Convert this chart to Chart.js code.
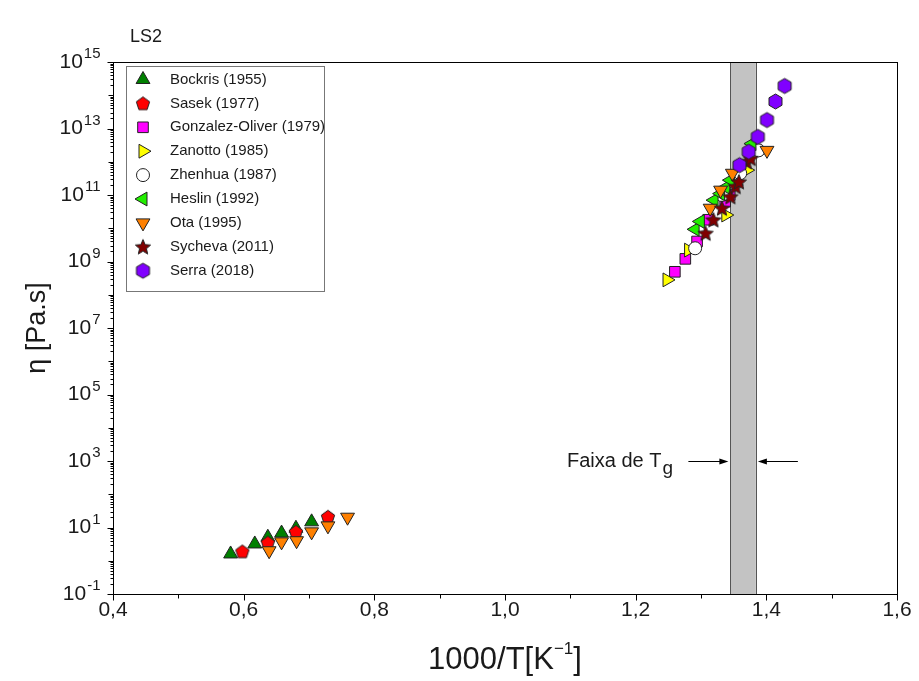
<!DOCTYPE html>
<html>
<head>
<meta charset="utf-8">
<script src="https://cdn.jsdelivr.net/npm/chart.js@4.4.1/dist/chart.umd.min.js"></script>
<style>
  html, body { margin: 0; padding: 0; background: #fff; }
  #wrap { width: 919px; height: 681px; }
</style>
</head>
<body>
<div id="wrap"><canvas id="chart" width="919" height="681"></canvas></div>
<script>
// dados (x = 1000/T, y = viscosidade em Pa.s)
const bockrisX = [0.580, 0.617, 0.637, 0.658, 0.680, 0.704]
const bockrisY = [1.6, 3.2, 5.1, 6.8, 9.5, 14.8]
const sasekX = [0.598, 0.637, 0.680, 0.729]
const sasekY = [1.9, 3.5, 7.4, 21]
const gonzalezX = [1.260, 1.276, 1.294, 1.311, 1.337, 1.344]
const gonzalezY = [4.9e8, 1.2e9, 4.0e9, 1.8e10, 6.3e10, 1.0e11]
const zanottoX = [1.248, 1.281, 1.338, 1.370]
const zanottoY = [2.8e8, 2.2e9, 2.5e10, 5.6e11]
const zhenhuaX = [1.291, 1.332, 1.337, 1.350, 1.360, 1.388]
const zhenhuaY = [2.5e9, 1.0e11, 1.1e11, 2.5e11, 4.5e11, 2.2e12]
const heslinX = [1.291, 1.299, 1.320, 1.330, 1.338, 1.345, 1.378]
const heslinY = [9.3e9, 1.6e10, 7.0e10, 1.1e11, 1.7e11, 2.8e11, 3.5e12]
const otaX = [0.639, 0.658, 0.681, 0.704, 0.729, 0.759, 1.314, 1.330, 1.348, 1.401]
const otaY = [2.0, 3.7, 4.0, 7.4, 11.2, 20.4, 4.0e10, 1.4e11, 4.5e11, 2.2e12]
const sychevaX = [1.307, 1.319, 1.332, 1.345, 1.353, 1.358, 1.370, 1.376]
const sychevaY = [7.1e9, 1.8e10, 4.0e10, 8.9e10, 1.8e11, 2.5e11, 1.0e12, 1.26e12]
const serraX = [1.359, 1.373, 1.387, 1.401, 1.414, 1.428]
const serraY = [7.9e11, 2.0e12, 5.6e12, 1.8e13, 6.5e13, 1.9e14]

const seriesLabels = ['Bockris (1955)', 'Sasek (1977)', 'Gonzalez-Oliver (1979)', 'Zanotto (1985)',
  'Zhenhua (1987)', 'Heslin (1992)', 'Ota (1995)', 'Sycheva (2011)', 'Serra (2018)']

// faixa de Tg (1000/T)
const tgBand = [1.345, 1.384]
const xTicks = [0.4, 0.6, 0.8, 1.0, 1.2, 1.4, 1.6]
const yTickExp = [-1, 1, 3, 5, 7, 9, 11, 13, 15]

const FONT = 'Arial, "Liberation Sans", sans-serif'

function pts(xs, ys) {
  return xs.map((x, i) => ({ x: x, y: ys[i] }))
}

// marcadores que o Chart.js não tem
function marker(shape, fill, size) {
  const c = document.createElement('canvas')
  const s = size + 4
  c.width = s
  c.height = s
  const g = c.getContext('2d')
  g.translate(s / 2, s / 2)
  const r = size / 2
  g.beginPath()
  if (shape === 'pentagon') {
    for (let i = 0; i < 5; i++) {
      const a = -Math.PI / 2 + i * 2 * Math.PI / 5
      g.lineTo(Math.cos(a) * r, Math.sin(a) * r + 0.5)
    }
  } else if (shape === 'hexagon') {
    for (let i = 0; i < 6; i++) {
      const a = -Math.PI / 2 + i * Math.PI / 3
      g.lineTo(Math.cos(a) * r, Math.sin(a) * r)
    }
  } else if (shape === 'star') {
    for (let i = 0; i < 10; i++) {
      const a = -Math.PI / 2 + i * Math.PI / 5
      const rr = i % 2 === 0 ? r : r * 0.45
      g.lineTo(Math.cos(a) * rr, Math.sin(a) * rr + 0.7)
    }
  }
  g.closePath()
  g.fillStyle = fill
  g.fill()
  g.lineWidth = 1
  g.strokeStyle = '#222'
  g.stroke()
  return c
}

const styles = [
  { pointStyle: 'triangle', rotation: 0, radius: 8, color: '#008000' },
  { pointStyle: marker('pentagon', '#ff0000', 14), rotation: 0, radius: 7, color: '#ff0000' },
  { pointStyle: 'rect', rotation: 0, radius: 7.5, color: '#ff00ff' },
  { pointStyle: 'triangle', rotation: 90, radius: 8, color: '#ffff00' },
  { pointStyle: 'circle', rotation: 0, radius: 6.5, color: '#ffffff' },
  { pointStyle: 'triangle', rotation: 270, radius: 8, color: '#22ee00' },
  { pointStyle: 'triangle', rotation: 180, radius: 8, color: '#ff8000' },
  { pointStyle: marker('star', '#800000', 16), rotation: 0, radius: 7, color: '#800000' },
  { pointStyle: marker('hexagon', '#8000ff', 15), rotation: 0, radius: 7, color: '#8000ff' }
]

const allData = [
  pts(bockrisX, bockrisY), pts(sasekX, sasekY), pts(gonzalezX, gonzalezY), pts(zanottoX, zanottoY),
  pts(zhenhuaX, zhenhuaY), pts(heslinX, heslinY), pts(otaX, otaY), pts(sychevaX, sychevaY), pts(serraX, serraY)
]

const datasets = allData.map((d, i) => ({
  label: seriesLabels[i],
  data: d,
  showLine: false,
  pointStyle: styles[i].pointStyle,
  rotation: styles[i].rotation,
  pointRadius: styles[i].radius,
  backgroundColor: styles[i].color,
  borderColor: '#222',
  borderWidth: 1,
  order: allData.length - i // séries posteriores ficam por cima
}))

function drawPow(ctx, exp, xRight, yMid) {
  ctx.font = '21px ' + FONT
  const bw = ctx.measureText('10').width
  ctx.font = '15px ' + FONT
  const ew = ctx.measureText(exp).width
  ctx.textBaseline = 'middle'
  ctx.textAlign = 'left'
  ctx.font = '21px ' + FONT
  ctx.fillText('10', xRight - ew - bw - 1, yMid)
  ctx.font = '15px ' + FONT
  ctx.fillText(exp, xRight - ew, yMid - 8)
}

function arrow(ctx, x1, x2, y) {
  const dir = Math.sign(x2 - x1)
  ctx.beginPath()
  ctx.moveTo(x1, y)
  ctx.lineTo(x2 - dir * 6, y)
  ctx.stroke()
  ctx.beginPath()
  ctx.moveTo(x2, y)
  ctx.lineTo(x2 - dir * 9, y - 3)
  ctx.lineTo(x2 - dir * 9, y + 3)
  ctx.closePath()
  ctx.fill()
}

const decorPlugin = {
  id: 'decor',
  beforeDatasetsDraw(chart) {
    const { ctx, chartArea: a, scales: { x } } = chart
    const x1 = x.getPixelForValue(tgBand[0])
    const x2 = x.getPixelForValue(tgBand[1])
    ctx.save()
    ctx.fillStyle = '#c3c3c3'
    ctx.fillRect(x1, a.top, x2 - x1, a.bottom - a.top)
    ctx.strokeStyle = '#555'
    ctx.lineWidth = 1
    ctx.beginPath()
    ctx.moveTo(Math.round(x1) + 0.5, a.top)
    ctx.lineTo(Math.round(x1) + 0.5, a.bottom)
    ctx.moveTo(Math.round(x2) + 0.5, a.top)
    ctx.lineTo(Math.round(x2) + 0.5, a.bottom)
    ctx.stroke()
    ctx.restore()
  },
  afterDraw(chart) {
    const { ctx, chartArea: a, scales: { x, y } } = chart
    ctx.save()
    ctx.strokeStyle = '#000'
    ctx.fillStyle = '#1a1a1a'
    ctx.lineWidth = 1
    const L = Math.round(a.left) + 0.5, R = Math.round(a.right) + 0.5
    const T = Math.round(a.top) + 0.5, B = Math.round(a.bottom) + 0.5
    ctx.strokeRect(L, T, R - L, B - T)

    // ticks eixo x
    ctx.beginPath()
    for (let v = 4; v <= 16; v++) {
      const px = Math.round(x.getPixelForValue(v / 10)) + 0.5
      ctx.moveTo(px, B)
      ctx.lineTo(px, B + (v % 2 === 0 ? 6 : 4))
    }
    // ticks eixo y (log)
    for (let e = -1; e <= 15; e++) {
      const py = Math.round(y.getPixelForValue(Math.pow(10, e))) + 0.5
      ctx.moveTo(L, py)
      ctx.lineTo(L - (e % 2 !== 0 ? 6 : 5), py)
      if (e < 15) {
        for (let m = 2; m <= 9; m++) {
          const pm = Math.round(y.getPixelForValue(m * Math.pow(10, e))) + 0.5
          ctx.moveTo(L, pm)
          ctx.lineTo(L - 3, pm)
        }
      }
    }
    ctx.stroke()

    // rótulos eixo y
    yTickExp.forEach(e => {
      drawPow(ctx, String(e), L - 13, y.getPixelForValue(Math.pow(10, e)))
    })

    // título eixo y
    ctx.save()
    ctx.translate(38, (a.top + a.bottom) / 2)
    ctx.rotate(-Math.PI / 2)
    ctx.font = '27px ' + FONT
    ctx.textAlign = 'center'
    ctx.textBaseline = 'middle'
    ctx.fillText('η [Pa.s]', 0, 0)
    ctx.restore()

    // título eixo x
    ctx.font = '31px ' + FONT
    const t1 = '1000/T[K', t3 = ']'
    const w1 = ctx.measureText(t1).width, w3 = ctx.measureText(t3).width
    ctx.font = '17px ' + FONT
    const w2 = ctx.measureText('−1').width
    let sx = (a.left + a.right) / 2 - (w1 + w2 + w3) / 2
    ctx.textAlign = 'left'
    ctx.textBaseline = 'middle'
    ctx.font = '31px ' + FONT
    ctx.fillText(t1, sx, 660)
    ctx.font = '17px ' + FONT
    ctx.fillText('−1', sx + w1, 649)
    ctx.font = '31px ' + FONT
    ctx.fillText(t3, sx + w1 + w2, 660)

    // título do painel
    ctx.font = '18px ' + FONT
    ctx.fillText('LS2', 130, 37)

    // anotação Tg
    const ay = y.getPixelForValue(1000)
    const bx1 = x.getPixelForValue(tgBand[0])
    const bx2 = x.getPixelForValue(tgBand[1])
    ctx.font = '20px ' + FONT
    ctx.fillText('Faixa de T', 567, ay)
    const fw = ctx.measureText('Faixa de T').width
    ctx.font = '19px ' + FONT
    ctx.fillText('g', 567 + fw + 1, ay + 8)
    ctx.fillStyle = '#000'
    arrow(ctx, bx1 - 42, bx1 - 2, Math.round(ay) + 0.5)
    arrow(ctx, bx2 + 42, bx2 + 2, Math.round(ay) + 0.5)

    // legenda
    ctx.fillStyle = '#fff'
    ctx.fillRect(126, 66, 198, 225)
    ctx.strokeStyle = '#777'
    ctx.strokeRect(126.5, 66.5, 198, 225)
    ctx.font = '15px ' + FONT
    ctx.textBaseline = 'middle'
    chart.data.datasets.forEach((ds, i) => {
      const ly = 79.5 + i * 23.9
      ctx.fillStyle = ds.backgroundColor
      ctx.strokeStyle = '#222'
      ctx.lineWidth = 1
      Chart.helpers.drawPoint(ctx, {
        pointStyle: ds.pointStyle,
        rotation: ds.rotation,
        radius: ds.pointRadius,
        borderWidth: 1
      }, 143, ly)
      ctx.fillStyle = '#1a1a1a'
      ctx.fillText(ds.label, 170, ly)
    })
    ctx.restore()
  }
}

new Chart(document.getElementById('chart'), {
  type: 'scatter',
  data: { datasets: datasets },
  options: {
    responsive: false,
    animation: false,
    events: [],
    layout: { padding: { top: 62, right: 22, left: 0, bottom: 0 } },
    plugins: {
      legend: { display: false },
      tooltip: { enabled: false }
    },
    scales: {
      x: {
        type: 'linear',
        min: 0.4,
        max: 1.6,
        afterFit(s) { s.height = 87 },
        afterBuildTicks(s) { s.ticks = xTicks.map(v => ({ value: v })) },
        ticks: {
          autoSkip: false,
          maxRotation: 0,
          padding: 4,
          color: '#1a1a1a',
          font: { family: FONT, size: 21 },
          callback: v => v.toFixed(1).replace('.', ',')
        },
        grid: { display: false, drawTicks: false },
        border: { display: false }
      },
      y: {
        type: 'logarithmic',
        min: 0.1,
        max: 1e15,
        afterFit(s) { s.width = 113 },
        ticks: { display: false },
        grid: { display: false, drawTicks: false },
        border: { display: false }
      }
    }
  },
  plugins: [decorPlugin]
})
</script>
</body>
</html>
